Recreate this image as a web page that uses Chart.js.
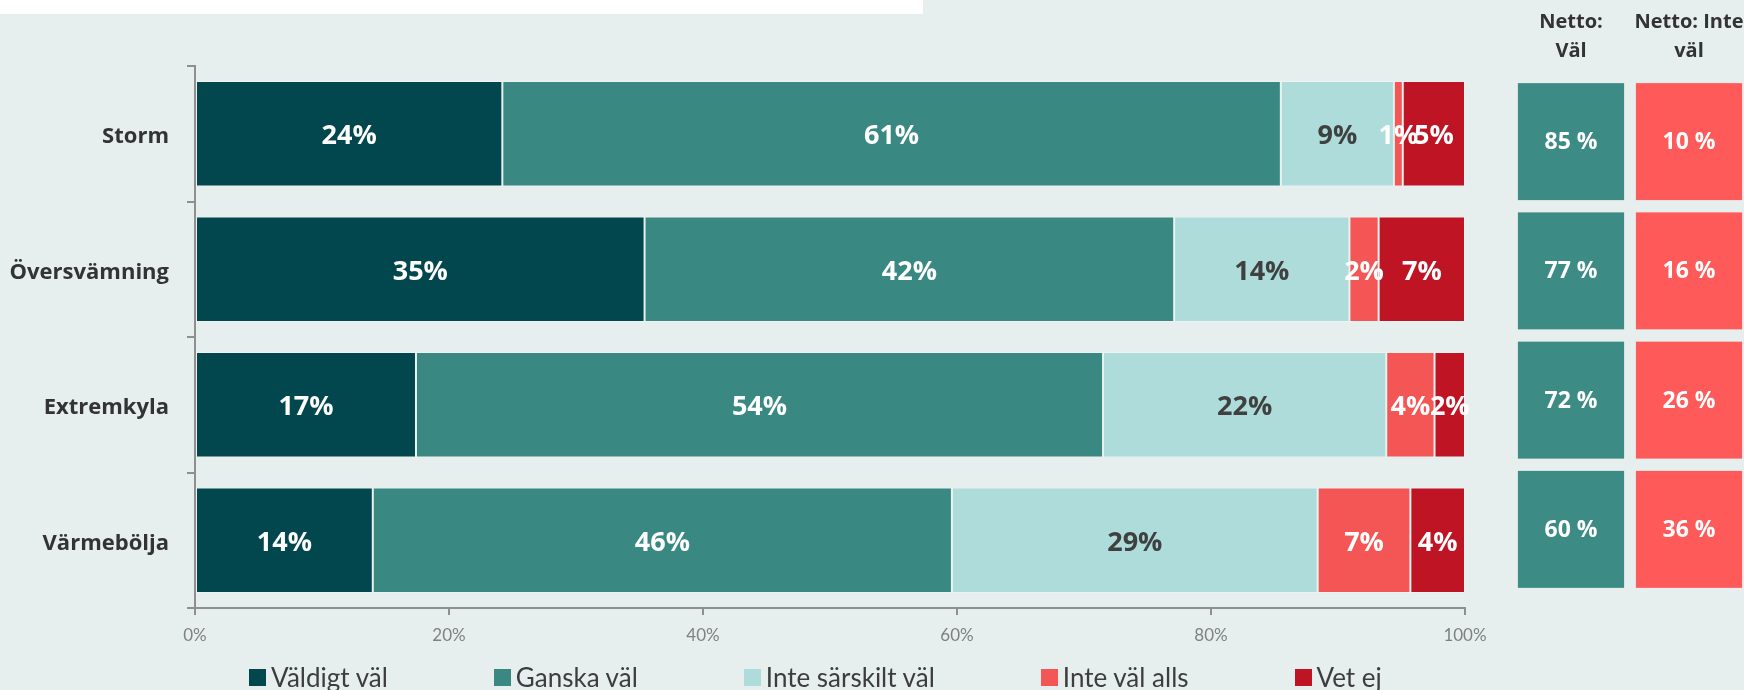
<!DOCTYPE html>
<html>
<head>
<meta charset="utf-8">
<script src="https://cdn.jsdelivr.net/npm/chart.js@4.4.0/dist/chart.umd.min.js"></script>
<style>
  html, body { margin: 0; padding: 0; width: 1744px; height: 690px; overflow: hidden; background: #e6efee; }
  #topStrip { position: absolute; left: 0; top: 0; width: 923px; height: 14px; background: #fff; }
  #mainChart { position: absolute; left: 0; top: 0; }
  #nettoChart { position: absolute; left: 1480px; top: 0; }
  #legend { position: absolute; left: 249px; top: 660px; display: flex; gap: 106px;
            font-family: Lato, sans-serif; font-size: 26px; color: #3d3d3d; }
  .item { display: flex; align-items: center; height: 34px; }
  .sw { width: 17px; height: 17px; margin-right: 5px; }
</style>
</head>
<body>
<div id="topStrip"></div>
<canvas id="mainChart" width="1660" height="690"></canvas>
<canvas id="nettoChart" width="280" height="690"></canvas>
<div id="legend"></div>
<script>
// Data
const categories = ['Storm', 'Översvämning', 'Extremkyla', 'Värmebölja'];
const seriesNames = ['Väldigt väl', 'Ganska väl', 'Inte särskilt väl', 'Inte väl alls', 'Vet ej'];
const valdigtVal = [24.2, 35.4, 17.4, 14.0];
const ganskaVal = [61.3, 41.7, 54.1, 45.6];
const inteSarskiltVal = [8.9, 13.8, 22.3, 28.8];
const inteValAlls = [0.7, 2.3, 3.8, 7.3];
const vetEj = [4.9, 6.8, 2.4, 4.3];
const xTicks = [0, 20, 40, 60, 80, 100];

const nettoHeaders = [['Netto:', 'Väl'], ['Netto: Inte', 'väl']];
const nettoVal = [85, 77, 72, 60];
const nettoInteVal = [10, 16, 26, 36];

// Styles
const segColors = ['#02474e', '#3a8882', '#addcda', '#f35654', '#be1424'];
const labelColors = ['#ffffff', '#ffffff', '#404040', '#ffffff', '#ffffff'];
const nettoColors = ['#3c8b84', '#fe5a5a'];
const axisGrey = '#8f8f8f';

Chart.defaults.font.family = "'Open Sans', sans-serif";

const allSeries = [valdigtVal, ganskaVal, inteSarskiltVal, inteValAlls, vetEj];

// In-bar percentage labels
const barLabels = {
    id: 'barLabels',
    afterDatasetsDraw(chart) {
        const ctx = chart.ctx;
        ctx.save();
        ctx.font = "bold 27px 'Open Sans'";
        ctx.textAlign = 'center';
        ctx.textBaseline = 'middle';
        chart.data.datasets.forEach((ds, di) => {
            const meta = chart.getDatasetMeta(di);
            meta.data.forEach((bar, i) => {
                ctx.fillStyle = labelColors[di];
                ctx.fillText(Math.round(ds.data[i]) + '%', (bar.x + bar.base) / 2, bar.y + 3);
            });
        });
        ctx.restore();
    }
};

new Chart(document.getElementById('mainChart'), {
    type: 'bar',
    data: {
        labels: categories,
        datasets: seriesNames.map((name, k) => ({
            label: name,
            data: allSeries[k],
            backgroundColor: segColors[k],
            borderColor: 'rgba(255,255,255,0.25)',
            borderWidth: 1,
            borderSkipped: false,
            categoryPercentage: 0.78,
            barPercentage: 1
        }))
    },
    options: {
        indexAxis: 'y',
        responsive: false,
        animation: false,
        layout: { padding: { top: 66, right: 195, left: 0, bottom: 0 } },
        plugins: { legend: { display: false }, tooltip: { enabled: false } },
        scales: {
            x: {
                stacked: true,
                min: 0, max: 100,
                afterBuildTicks: s => { s.ticks = xTicks.map(v => ({ value: v })); },
                ticks: { callback: v => v + '%', color: '#808080', font: { family: 'Lato', size: 17 }, padding: 10 },
                grid: { drawOnChartArea: false, tickLength: 7, color: axisGrey, lineWidth: 2 },
                border: { color: axisGrey, width: 2 },
                afterFit: s => { s.height = 82; }
            },
            y: {
                stacked: true,
                ticks: { color: '#333333', font: { size: 22, weight: 'bold' }, padding: 18, labelOffset: 3 },
                grid: { drawOnChartArea: false, tickLength: 8, color: axisGrey, lineWidth: 2, offset: true },
                border: { color: axisGrey, width: 2 },
                afterFit: s => { s.width = 195; }
            }
        }
    },
    plugins: [barLabels]
});

// Netto table cells, placed on the category scales of a second chart
const nettoCells = {
    id: 'nettoCells',
    afterDraw(chart) {
        const { ctx, scales: { x, y } } = chart;
        const cw = (x.getPixelForValue(1) - x.getPixelForValue(0)) * 0.9;
        const ch = (y.getPixelForValue(1) - y.getPixelForValue(0)) * 0.905;
        ctx.save();
        ctx.font = "bold 23px 'Open Sans'";
        ctx.textAlign = 'center';
        ctx.textBaseline = 'middle';
        [nettoVal, nettoInteVal].forEach((col, c) => {
            const cx = x.getPixelForValue(c);
            col.forEach((v, r) => {
                const cy = y.getPixelForValue(r);
                ctx.fillStyle = nettoColors[c];
                ctx.fillRect(cx - cw / 2, cy - ch / 2, cw, ch);
                ctx.fillStyle = '#ffffff';
                ctx.fillText(v + ' %', cx, cy + 1);
            });
        });
        ctx.restore();
    }
};

new Chart(document.getElementById('nettoChart'), {
    type: 'bar',
    data: { labels: [], datasets: [] },
    options: {
        responsive: false,
        animation: false,
        layout: { padding: { left: 32, right: 12, top: 0, bottom: 96 } },
        plugins: { legend: { display: false }, tooltip: { enabled: false } },
        scales: {
            x: {
                type: 'category',
                labels: nettoHeaders,
                position: 'top',
                offset: true,
                grid: { display: false, drawTicks: false },
                border: { display: false },
                ticks: { color: '#333333', font: { size: 20, weight: 'bold', lineHeight: 1.45 }, padding: 11, maxRotation: 0, autoSkip: false },
                afterFit: s => { s.height = 77; }
            },
            y: { type: 'category', labels: categories, offset: true, display: false }
        }
    },
    plugins: [nettoCells]
});

// Legend
const legendEl = document.getElementById('legend');
seriesNames.forEach((name, k) => {
    const item = document.createElement('div');
    item.className = 'item';
    item.innerHTML = `<span class="sw" style="background:${segColors[k]}"></span><span>${name}</span>`;
    legendEl.appendChild(item);
});
</script>
</body>
</html>
